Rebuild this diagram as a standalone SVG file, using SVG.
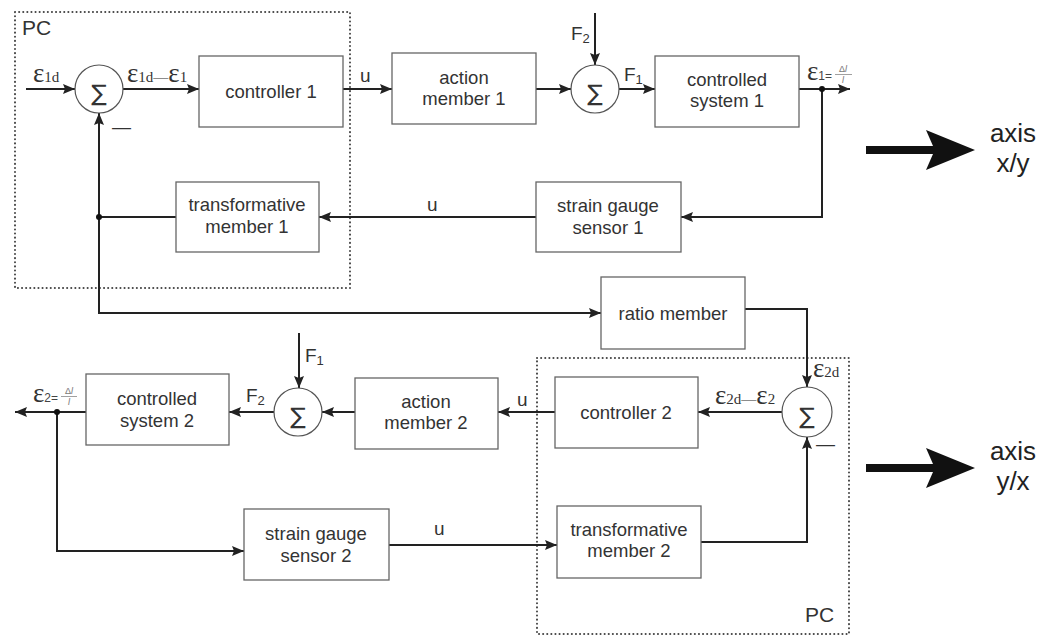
<svg xmlns="http://www.w3.org/2000/svg" width="1056" height="637" viewBox="0 0 1056 637">
  <defs>
    <marker id="arr" markerUnits="userSpaceOnUse" markerWidth="12" markerHeight="10" refX="12" refY="5" orient="auto">
      <path d="M0,0 L12,5 L0,10 L2,5 z" fill="#222"/>
    </marker>
    <style>
      .box { fill: #fff; stroke: #666; stroke-width: 1.3; }
      .sum { fill: #fff; stroke: #555; stroke-width: 1.2; }
      .pc { fill: none; stroke: #444; stroke-width: 2; stroke-dasharray: 0.1 4; stroke-linecap: round; }
      .wire { fill: none; stroke: #222; stroke-width: 2; }
      .arrow { marker-end: url(#arr); }
      .dot { fill: #111; }
      .t { font-family: "Liberation Sans", Arial, sans-serif; font-size: 18.5px; fill: #333; text-anchor: middle; }
      .sig { font-family: "Liberation Sans", Arial, sans-serif; font-size: 19px; fill: #333; }
      .sub { font-size: 13px; }
      .sigma { font-family: "DejaVu Sans", "Liberation Sans", sans-serif; font-size: 23px; fill: #333; text-anchor: middle; }
      .eps { font-family: "Liberation Serif", "Times New Roman", serif; fill: #333; }
      .e { font-size: 27px; }
      .es { font-size: 15px; }
      .small { font-family: "Liberation Sans", Arial, sans-serif; font-size: 12px; fill: #444; }
      .frac { font-family: "Liberation Sans", Arial, sans-serif; font-size: 9px; fill: #777; text-anchor: middle; }
      .fbar { stroke: #888; stroke-width: 0.8; }
      .pclbl { font-family: "Liberation Sans", Arial, sans-serif; font-size: 21px; fill: #333; }
      .axis { font-family: "Liberation Sans", Arial, sans-serif; font-size: 26px; fill: #222; text-anchor: middle; }
    </style>
  </defs>

  <rect width="1056" height="637" fill="#fff"/>

  <!-- PC boundaries -->
  <g id="pc1">
    <rect class="pc" x="15" y="12" width="335" height="276"/>
    <text class="pclbl" x="22" y="35">PC</text>
  </g>
  <g id="pc2">
    <rect class="pc" x="537" y="358" width="312" height="276"/>
    <text class="pclbl" x="805" y="622">PC</text>
  </g>

  <!-- connectors -->
  <g id="connectors">
    <path class="wire arrow" d="M26 89 H75"/>
    <path class="wire arrow" d="M123 89 H199"/>
    <path class="wire arrow" d="M343 89 H392"/>
    <path class="wire arrow" d="M536 89 H571"/>
    <path class="wire arrow" d="M595 13 V65"/>
    <path class="wire arrow" d="M619 89 H655"/>
    <path class="wire arrow" d="M799 89 H850"/>
    <path class="wire arrow" d="M822 89 V217 H681"/>
    <path class="wire arrow" d="M536 217 H319"/>
    <path class="wire" d="M176 217 H99"/>
    <path class="wire arrow" d="M99 217 V113"/>
    <path class="wire arrow" d="M99 217 V313 H601"/>
    <path class="wire arrow" d="M745 309 H807 V387"/>
    <path class="wire arrow" d="M782 412 H698"/>
    <path class="wire arrow" d="M555 412 H498"/>
    <path class="wire arrow" d="M355 412 H322"/>
    <path class="wire arrow" d="M299 333 V388"/>
    <path class="wire arrow" d="M274 412 H229"/>
    <path class="wire arrow" d="M86 412 H15"/>
    <path class="wire arrow" d="M57 412 V551 H244"/>
    <path class="wire arrow" d="M389 545 H557"/>
    <path class="wire arrow" d="M701 542 H807 V437"/>
    <circle class="dot" cx="822" cy="89" r="3"/>
    <circle class="dot" cx="99" cy="217" r="3"/>
    <circle class="dot" cx="57" cy="412" r="3"/>

    <!-- signal labels -->
    <text class="eps" x="33" y="82"><tspan class="e">ε</tspan><tspan class="es">1d</tspan></text>
    <text class="eps" x="127" y="82"><tspan class="e">ε</tspan><tspan class="es">1d—</tspan><tspan class="e">ε</tspan><tspan class="es">1</tspan></text>
    <text class="sig" x="360" y="82">u</text>
    <text class="sig" x="571" y="40">F<tspan class="sub" dy="3">2</tspan></text>
    <text class="sig" x="624" y="81">F<tspan class="sub" dy="3">1</tspan></text>
    <text class="eps" x="807" y="80"><tspan class="e">ε</tspan><tspan class="small">1=</tspan></text>
    <text class="frac" x="843" y="72">Δ<tspan font-style="italic">l</tspan></text>
    <line class="fbar" x1="835" y1="74.5" x2="852" y2="74.5"/>
    <text class="frac" x="843" y="83" font-style="italic">l</text>
    <text class="sig" x="427" y="211">u</text>
    <text class="eps" x="813" y="377"><tspan class="e">ε</tspan><tspan class="es">2d</tspan></text>
    <text class="eps" x="715" y="404"><tspan class="e">ε</tspan><tspan class="es">2d—</tspan><tspan class="e">ε</tspan><tspan class="es">2</tspan></text>
    <text class="sig" x="517" y="406">u</text>
    <text class="sig" x="305" y="362">F<tspan class="sub" dy="3">1</tspan></text>
    <text class="sig" x="246" y="402">F<tspan class="sub" dy="3">2</tspan></text>
    <text class="eps" x="33" y="402"><tspan class="e">ε</tspan><tspan class="small">2=</tspan></text>
    <text class="frac" x="69" y="394">Δ<tspan font-style="italic">l</tspan></text>
    <line class="fbar" x1="61" y1="396.5" x2="77" y2="396.5"/>
    <text class="frac" x="69" y="405" font-style="italic">l</text>
    <text class="sig" x="434" y="535">u</text>
  </g>

  <!-- summing junctions -->
  <g id="sum1">
    <circle class="sum" cx="99" cy="89" r="24"/>
    <text class="sigma" x="99" y="101">∑</text>
    <text class="sig" x="112" y="133">—</text>
  </g>
  <g id="sum2">
    <circle class="sum" cx="595" cy="89" r="24"/>
    <text class="sigma" x="595" y="101">∑</text>
  </g>
  <g id="sum3">
    <circle class="sum" cx="807" cy="412" r="25"/>
    <text class="sigma" x="807" y="424">∑</text>
    <text class="sig" x="816" y="450">—</text>
  </g>
  <g id="sum4">
    <circle class="sum" cx="298" cy="412" r="24"/>
    <text class="sigma" x="298" y="424">∑</text>
  </g>

  <!-- blocks -->
  <g id="controller1">
    <rect class="box" x="199" y="56" width="144" height="71"/>
    <text class="t" x="271" y="98">controller 1</text>
  </g>
  <g id="action1">
    <rect class="box" x="392" y="53" width="144" height="71"/>
    <text class="t" x="464" y="84">action</text>
    <text class="t" x="464" y="105">member 1</text>
  </g>
  <g id="system1">
    <rect class="box" x="655" y="56" width="144" height="71"/>
    <text class="t" x="727" y="86">controlled</text>
    <text class="t" x="727" y="107">system 1</text>
  </g>
  <g id="sensor1">
    <rect class="box" x="536" y="182" width="145" height="70"/>
    <text class="t" x="608" y="212">strain gauge</text>
    <text class="t" x="608" y="234">sensor 1</text>
  </g>
  <g id="transform1">
    <rect class="box" x="176" y="182" width="143" height="70"/>
    <text class="t" x="247" y="211">transformative</text>
    <text class="t" x="247" y="233">member 1</text>
  </g>
  <g id="ratio">
    <rect class="box" x="601" y="277" width="144" height="72"/>
    <text class="t" x="673" y="320">ratio member</text>
  </g>
  <g id="controller2">
    <rect class="box" x="555" y="377" width="143" height="71"/>
    <text class="t" x="626" y="419">controller 2</text>
  </g>
  <g id="action2">
    <rect class="box" x="355" y="378" width="143" height="71"/>
    <text class="t" x="426" y="408">action</text>
    <text class="t" x="426" y="429">member 2</text>
  </g>
  <g id="system2">
    <rect class="box" x="86" y="374" width="143" height="71"/>
    <text class="t" x="157" y="405">controlled</text>
    <text class="t" x="157" y="427">system 2</text>
  </g>
  <g id="sensor2">
    <rect class="box" x="244" y="509" width="145" height="71"/>
    <text class="t" x="316" y="540">strain gauge</text>
    <text class="t" x="316" y="562">sensor 2</text>
  </g>
  <g id="transform2">
    <rect class="box" x="557" y="506" width="144" height="72"/>
    <text class="t" x="629" y="536">transformative</text>
    <text class="t" x="629" y="557">member 2</text>
  </g>

  <!-- axis indicators -->
  <g id="axis-xy">
    <path d="M866 146 H933 L926 130 L975 150 L926 170 L933 154 H866 Z" fill="#111"/>
    <text class="axis" x="1013" y="142">axis</text>
    <text class="axis" x="1013" y="172">x/y</text>
  </g>
  <g id="axis-yx">
    <path d="M866 464 H933 L926 448 L975 468 L926 488 L933 472 H866 Z" fill="#111"/>
    <text class="axis" x="1013" y="460">axis</text>
    <text class="axis" x="1013" y="490">y/x</text>
  </g>
</svg>
